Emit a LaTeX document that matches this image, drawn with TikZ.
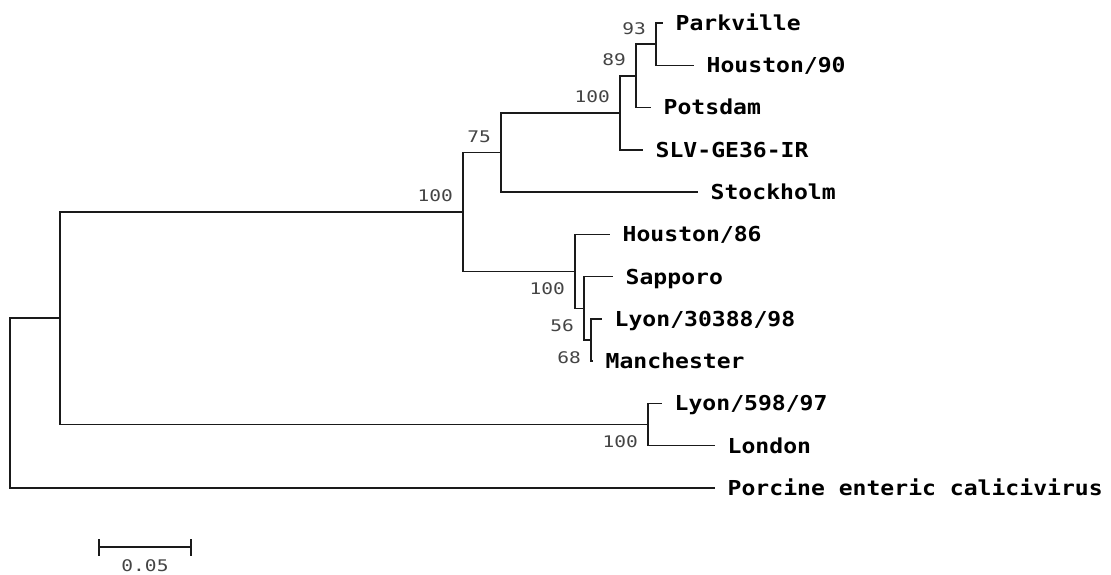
\documentclass[tikz,border=0pt]{standalone}
\usepackage{fontspec}
\newfontfamily\taxfont[FakeStretch=1.12]{DejaVu Sans Mono}
\newfontfamily\bootfont[FakeStretch=1.22]{DejaVu Sans Mono}
\definecolor{linecol}{HTML}{1A1A1A}
\definecolor{bootcol}{HTML}{444444}
\begin{document}
\begin{tikzpicture}[x=1pt,y=-1pt,
  branch/.style={draw=linecol,line width=1.5pt},
  taxon/.style={anchor=base west,inner sep=0pt,xshift=12.5pt,yshift=-7.5pt,
    font=\taxfont\bfseries\fontsize{20.6}{24}\selectfont,text=black},
  bootup/.style={anchor=base east,inner sep=0pt,xshift=-10pt,yshift=10pt,
    font=\bootfont\fontsize{16}{19}\selectfont,text=bootcol},
  bootdown/.style={anchor=base east,inner sep=0pt,xshift=-10pt,yshift=-23pt,
    font=\bootfont\fontsize{16}{19}\selectfont,text=bootcol}]
\useasboundingbox (0,0) rectangle (1111,575);
% leaf ends
\coordinate (pk) at (663,23.0);
\coordinate (h90) at (694,65.3);
\coordinate (po) at (651,107.5);
\coordinate (slv) at (643,149.8);
\coordinate (st) at (698,192.1);
\coordinate (h86) at (610,234.4);
\coordinate (sa) at (613,276.6);
\coordinate (ly3) at (602,318.9);
\coordinate (ma) at (593,361.2);
\coordinate (ly5) at (662,403.4);
\coordinate (lo) at (715,445.7);
\coordinate (pe) at (715,488.0);
% internal nodes
\coordinate (F) at (656,44.1);
\coordinate (E) at (636,75.8);
\coordinate (D) at (620,112.8);
\coordinate (C) at (501,152.5);
\coordinate (I) at (591,340.0);
\coordinate (H) at (584,308.3);
\coordinate (G) at (575,271.4);
\coordinate (B) at (463,211.9);
\coordinate (J) at (648,424.6);
\coordinate (A) at (60,318.2);
\coordinate (R) at (10,403.1);
% branches
\draw[branch] (F) |- (pk); \draw[branch] (F) |- (h90);
\draw[branch] (E) |- (F); \draw[branch] (E) |- (po);
\draw[branch] (D) |- (E); \draw[branch] (D) |- (slv);
\draw[branch] (C) |- (D); \draw[branch] (C) |- (st);
\draw[branch] (I) |- (ly3); \draw[branch] (I) |- (ma);
\draw[branch] (H) |- (sa); \draw[branch] (H) |- (I);
\draw[branch] (G) |- (h86); \draw[branch] (G) |- (H);
\draw[branch] (B) |- (C); \draw[branch] (B) |- (G);
\draw[branch] (J) |- (ly5); \draw[branch] (J) |- (lo);
\draw[branch] (A) |- (B); \draw[branch] (A) |- (J);
\draw[branch] (R) |- (A); \draw[branch] (R) |- (pe);
% taxa
\node[taxon] (tpk) at (pk) {Parkville};
\node[taxon] (th90) at (h90) {Houston/90};
\node[taxon] (tpo) at (po) {Potsdam};
\node[taxon] (tslv) at (slv) {SLV-GE36-IR};
\node[taxon] (tst) at (st) {Stockholm};
\node[taxon] (th86) at (h86) {Houston/86};
\node[taxon] (tsa) at (sa) {Sapporo};
\node[taxon] (tly3) at (ly3) {Lyon/30388/98};
\node[taxon] (tma) at (ma) {Manchester};
\node[taxon] (tly5) at (ly5) {Lyon/598/97};
\node[taxon] (tlo) at (lo) {London};
\node[taxon] (tpe) at (pe) {Porcine enteric calicivirus};
% bootstrap values
\node[bootup] (bF) at (F) {93};
\node[bootup] (bE) at (E) {89};
\node[bootup] (bD) at (D) {100};
\node[bootup] (bC) at (C) {75};
\node[bootup] (bB) at (B) {100};
\node[bootdown] (bG) at (G) {100};
\node[bootdown] (bH) at (H) {56};
\node[bootdown] (bI) at (I) {68};
\node[bootdown] (bJ) at (J) {100};
% scale bar
\coordinate (s1) at (99,547);
\coordinate (s2) at (191,547);
\draw[branch] (s1) -- (s2);
\draw[branch] ([yshift=-8.5pt]s1) -- ([yshift=8.5pt]s1);
\draw[branch] ([yshift=-8.5pt]s2) -- ([yshift=8.5pt]s2);
\node[anchor=base,inner sep=0pt,font=\bootfont\fontsize{16}{19}\selectfont,text=bootcol] (sl) at (145,571) {0.05};
\end{tikzpicture}
\end{document}
